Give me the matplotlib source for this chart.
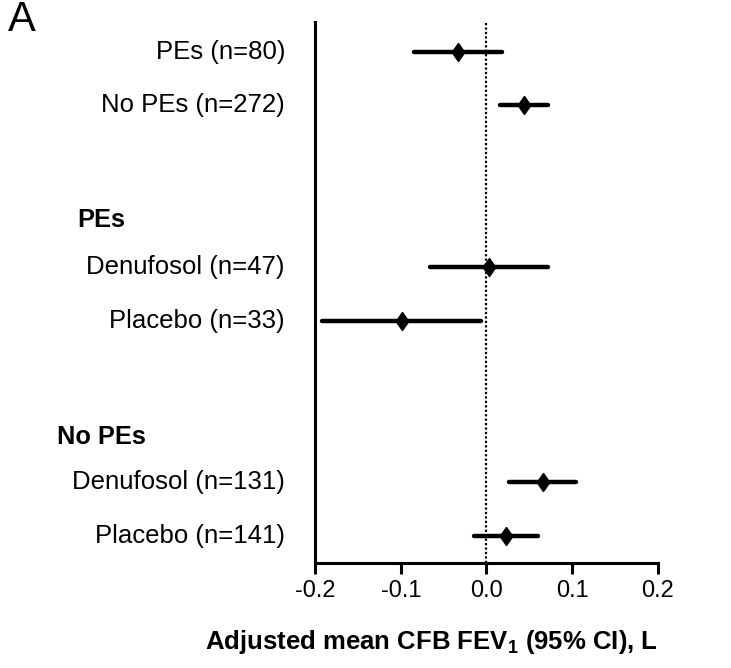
import numpy as np
import matplotlib.pyplot as plt
from matplotlib.transforms import blended_transform_factory

plt.rcParams['font.family'] = ['Liberation Sans', 'DejaVu Sans']
plt.rcParams['mathtext.fontset'] = 'custom'
plt.rcParams['mathtext.rm'] = 'Liberation Sans:bold'

labels = ['PEs (n=80)', 'No PEs (n=272)',
          'Denufosol (n=47)', 'Placebo (n=33)',
          'Denufosol (n=131)', 'Placebo (n=141)']
means = [-0.033, 0.044, 0.003, -0.098, 0.066, 0.023]
lower = [-0.085, 0.016, -0.066, -0.192, 0.026, -0.015]
upper = [0.018, 0.072, 0.072, -0.006, 0.104, 0.060]
headers = ['PEs', 'No PEs']
xticks = [-0.2, -0.1, 0.0, 0.1, 0.2]
xlabel = r'Adjusted mean CFB FEV$_\mathrm{1}$ (95% CI), L'

# tall diamond marker
DIAMOND = [(0, 1), (0.7, 0), (0, -1), (-0.7, 0), (0, 1)]


def main():
    fig = plt.figure(figsize=(7.31, 6.68), dpi=100)
    ax = fig.add_axes([0.431, 0.157, 0.469, 0.81])

    ypos = [9, 8, 5, 4, 1, 0]
    head_y = [5.87, 1.84]

    for y, m, lo, hi in zip(ypos, means, lower, upper):
        ax.plot([lo, hi], [y, y], color='black', lw=3.2, solid_capstyle='round')
        ax.plot(m, y, marker=DIAMOND, color='black', markersize=13, markeredgewidth=1)

    ax.axvline(0, color='black', lw=1.6, ls=(0, (1, 1)))

    ax.set_xlim(-0.2, 0.2)
    ax.set_ylim(-0.5, 9.55)
    ax.set_xticks(xticks)
    ax.set_xticklabels(['%.1f' % v for v in xticks], fontsize=17)
    ax.set_yticks([])
    ax.tick_params(axis='x', length=8, width=2.2, pad=4)

    for s in ['top', 'right']:
        ax.spines[s].set_visible(False)
    for s in ['left', 'bottom']:
        ax.spines[s].set_linewidth(2.2)

    trans = blended_transform_factory(fig.transFigure, ax.transData)
    for y, lab in zip(ypos, labels):
        ax.text(285 / 731, y, lab, transform=trans, ha='right', va='center', fontsize=18.5)
    for y, h in zip(head_y, headers):
        ax.text(101 / 731, y, h, transform=trans, ha='center', va='center',
                fontsize=18.3, fontweight='bold')

    fig.text(21.5 / 731, 1 - 20 / 668, 'A', ha='center', va='center', fontsize=30)
    fig.text(658 / 731, 1 - 642 / 668, xlabel, ha='right', va='center',
             fontsize=18.5, fontweight='bold')

    fig.savefig('out.png', dpi=100)


if __name__ == '__main__':
    main()
